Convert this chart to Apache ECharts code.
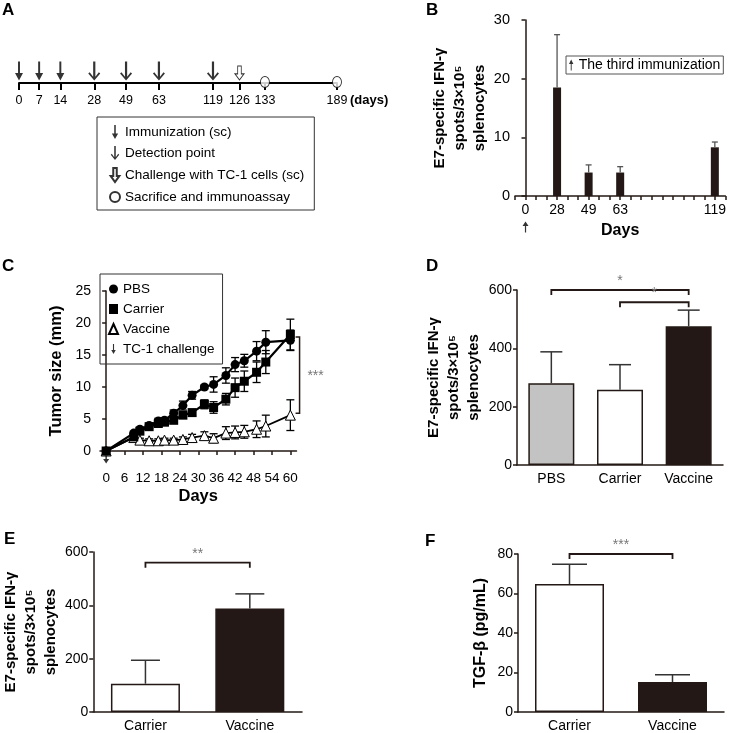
<!DOCTYPE html>
<html><head><meta charset="utf-8">
<script src="https://cdn.jsdelivr.net/npm/echarts@6/dist/echarts.min.js"></script>
<style>html,body{margin:0;padding:0;background:#fff}#c{width:729px;height:733px}</style>
</head><body><div id="c"></div><script>
// ================= DATA =================
// A: immunization schedule (days)
const aImmunDays = [0, 7, 14];
const aDetectDays = [28, 49, 63, 119];
const aChallengeDays = [126];
const aSacrificeDays = [133, 189];
const aTickDays = [0, 7, 14, 28, 49, 63, 119, 126, 133, 189];
// B: E7-specific IFN-gamma spots over time
const bDays = [0, 28, 49, 63, 119];
const bValues = [0, 18.5, 4.0, 4.0, 8.3];
const bErrors = [0, 9.0, 1.3, 1.0, 0.9];
// C: tumor growth
const cDays = [0, 9, 11, 14, 17, 19, 22, 25, 28, 32, 35, 39, 42, 45, 49, 52, 60];
const cPBS = [0, 2.8, 3.4, 4.0, 4.7, 4.8, 5.9, 7.1, 8.7, 10.0, 10.4, 11.8, 13.5, 14.1, 15.6, 17.0, 17.3];
const cPBSErr = [0, 0.3, 0.3, 0.3, 0.4, 0.4, 0.5, 0.7, 0.6, 0.3, 1.2, 1.2, 1.1, 1.0, 1.5, 1.8, 1.6];
const cCarrier = [0, 2.2, 3.1, 3.8, 4.3, 4.5, 4.8, 5.6, 6.0, 7.3, 6.8, 8.1, 9.9, 10.9, 12.3, 13.9, 18.2];
const cCarrierErr = [0, 0.3, 0.3, 0.3, 0.4, 0.4, 0.5, 0.5, 0.5, 0.7, 0.9, 0.9, 1.5, 1.6, 1.6, 1.8, 2.4];
const cVaccine = [0, 2.1, 1.7, 1.6, 1.6, 1.7, 1.7, 1.8, 2.1, 2.4, 2.0, 2.8, 2.9, 3.0, 3.4, 3.9, 5.6];
const cVaccineErr = [0, 0.2, 0.3, 0.3, 0.3, 0.3, 0.3, 0.4, 0.5, 0.6, 0.7, 1.0, 1.0, 1.0, 1.3, 1.7, 2.4];
const cSig = { day: 63, from: 17.8, to: 5.9, label: '***' };
// D
const dCats = ['PBS', 'Carrier', 'Vaccine'];
const dValues = [280, 258, 476];
const dErrors = [108, 86, 55];
const dSig = [{ from: 0, to: 2, y: 600, label: '*' }, { from: 1, to: 2, y: 558, label: '*' }];
// E
const eCats = ['Carrier', 'Vaccine'];
const eValues = [106, 388];
const eErrors = [88, 55];
const eSig = [{ from: 0, to: 1, y: 560, label: '**' }];
// F
const fCats = ['Carrier', 'Vaccine'];
const fValues = [64.8, 15.2];
const fErrors = [10.0, 3.6];
const fSig = [{ from: 0, to: 1, y: 80, label: '***' }];

// ================= LAYOUT (schematic slots) =================
const aSlotOf = {0: 0, 7: 1.9, 14: 3.9, 28: 7.1, 49: 10.1, 63: 13.2, 119: 18.3, 126: 20.8, 133: 23.2, 189: 30};
const bSlotOf = {0: 0, 28: 3, 49: 6, 63: 9, 119: 18};

const FONT = '"Liberation Sans", Arial, sans-serif';
const INK = '#231815';
const P_THIN_DOWN = 'path://M3.9,0 L6.1,0 L6.1,12 L9.5,12 L5,20 L0.5,12 L3.9,12 Z';
const P_CHEVRON_DOWN = 'path://M4.9,0 L7.1,0 L7.1,16 L10.6,11.2 L12,12.6 L6,20 L0,12.6 L1.4,11.2 L4.9,16 Z';
const P_BLOCK_DOWN = 'path://M3,0 L7,0 L7,9 L10,9 L5,16 L0,9 L3,9 Z';
const P_THIN_UP = 'path://M4.2,20 L5.8,20 L5.8,8 L9,8 L5,0 L1,8 L4.2,8 Z';

const aSlots = aTickDays.map(d => aSlotOf[d]);
function aLabel(v) {
  const i = aSlots.findIndex(s => Math.abs(s - v) < 1e-6);
  return i >= 0 ? String(aTickDays[i]) : '';
}
function bLabel(v) {
  for (const d of bDays) if (bSlotOf[d] === v) return String(d);
  return '';
}

function errRender(capHalf, color, lw, twoSided) {
  return function (params, api) {
    const x = api.value(0), v = api.value(1), e = api.value(2);
    if (!e) return null;
    const top = api.coord([x, v + e]);
    const mid = api.coord([x, v]);
    const bot = twoSided ? api.coord([x, v - e]) : mid;
    const st = { stroke: color, lineWidth: lw };
    const ch = [
      { type: 'line', shape: { x1: top[0], y1: top[1], x2: bot[0], y2: bot[1] }, style: st },
      { type: 'line', shape: { x1: top[0] - capHalf, y1: top[1], x2: top[0] + capHalf, y2: top[1] }, style: st }
    ];
    if (twoSided) ch.push({ type: 'line', shape: { x1: bot[0] - capHalf, y1: bot[1], x2: bot[0] + capHalf, y2: bot[1] }, style: st });
    return { type: 'group', children: ch };
  };
}
function sigRender(list) {
  return function (params, api) {
    const s = list[params.dataIndex];
    const a = api.coord([s.from, s.y]);
    const b = api.coord([s.to, s.y]);
    return {
      type: 'group', children: [
        { type: 'polyline', shape: { points: [[a[0], a[1] + 5], [a[0], a[1]], [b[0], a[1]], [b[0], a[1] + 5]] },
          style: { stroke: INK, lineWidth: 1.8, fill: null } },
        { type: 'text', x: (a[0] + b[0]) / 2, y: a[1] - 2,
          style: { text: s.label, fill: '#777', font: '14px ' + FONT, align: 'center', verticalAlign: 'bottom' } }
      ]
    };
  };
}

const axisLineStyle = { show: true, lineStyle: { color: INK, width: 1.5 } };
const tickStyle = { show: true, length: 4, lineStyle: { color: INK, width: 1.5 } };
const labelStyle = (fs) => ({ color: '#000', fontSize: fs, fontFamily: FONT });
const nameStyle = (fs) => ({ color: '#000', fontSize: fs, fontWeight: 'bold', fontFamily: FONT, lineHeight: 20 });
const nameStyleC = (fs) => ({ ...nameStyle(fs), align: 'center', verticalAlign: 'middle' });
const IFN_TITLE = 'E7-specific IFN-γ\nspots/3×10⁵\nsplenocytes';

const option = {
  animation: false,
  backgroundColor: '#fff',
  grid: [
    { left: 19, top: 63, width: 318, height: 20 },      // A
    { left: 515, top: 20, width: 212, height: 176 },    // B
    { left: 100, top: 291, width: 196.5, height: 160 }, // C
    { left: 517, top: 290, width: 206, height: 175 },   // D
    { left: 92, top: 552, width: 210, height: 164 },    // E
    { left: 518, top: 554, width: 206, height: 162 }    // F
  ],
  xAxis: [
    { gridIndex: 0, type: 'value', min: 0, max: 30,
      axisLine: { show: true, lineStyle: { color: '#000', width: 2 } },
      axisTick: { show: true, customValues: aSlots, length: 7, lineStyle: { color: '#000', width: 2 } },
      axisLabel: { customValues: aSlots, formatter: aLabel, margin: 11, ...labelStyle(12.5) },
      splitLine: { show: false } },
    { gridIndex: 1, type: 'value', min: -1, max: 19, interval: 1,
      axisLine: axisLineStyle, axisTick: tickStyle,
      axisLabel: { formatter: bLabel, margin: 7, showMinLabel: true, showMaxLabel: true, ...labelStyle(14) },
      splitLine: { show: false },
      name: 'Days', nameLocation: 'middle', nameGap: 25, nameTextStyle: nameStyle(16) },
    { gridIndex: 2, type: 'value', min: -2, max: 62, offset: 15,
      axisLine: axisLineStyle,
      axisTick: { ...tickStyle, customValues: [0, 6, 12, 18, 24, 30, 36, 42, 48, 54, 60] },
      axisLabel: { customValues: [0, 6, 12, 18, 24, 30, 36, 42, 48, 54, 60], margin: 5, ...labelStyle(13.5) },
      splitLine: { show: false },
      name: 'Days', nameLocation: 'middle', nameGap: 20, nameTextStyle: nameStyle(16.5) },
    { gridIndex: 3, type: 'category', data: dCats,
      axisLine: axisLineStyle, axisTick: { show: false },
      axisLabel: { margin: 7, ...labelStyle(14) } },
    { gridIndex: 4, type: 'category', data: eCats,
      axisLine: axisLineStyle, axisTick: { show: false },
      axisLabel: { margin: 7, ...labelStyle(14) } },
    { gridIndex: 5, type: 'category', data: fCats,
      axisLine: axisLineStyle, axisTick: { show: false },
      axisLabel: { margin: 7, ...labelStyle(14) } }
  ],
  yAxis: [
    { gridIndex: 0, type: 'value', min: 0, max: 1, show: false },
    { gridIndex: 1, type: 'value', min: 0, max: 30, interval: 10,
      axisLine: axisLineStyle, axisTick: tickStyle, axisLabel: { margin: 5, ...labelStyle(14.5) },
      splitLine: { show: false },
      name: IFN_TITLE, nameLocation: 'middle', nameGap: 55, nameTextStyle: nameStyleC(15) },
    { gridIndex: 2, type: 'value', min: 0, max: 25, interval: 5, offset: 5,
      axisLine: axisLineStyle, axisTick: tickStyle, axisLabel: { margin: 4, ...labelStyle(14) },
      splitLine: { show: false },
      name: 'Tumor size (mm)', nameLocation: 'middle', nameGap: 29, nameTextStyle: nameStyle(16.5) },
    { gridIndex: 3, type: 'value', min: 0, max: 600, interval: 200,
      axisLine: axisLineStyle, axisTick: tickStyle, axisLabel: { margin: 5, ...labelStyle(14) },
      splitLine: { show: false },
      name: IFN_TITLE, nameLocation: 'middle', nameGap: 63, nameTextStyle: nameStyleC(15) },
    { gridIndex: 4, type: 'value', min: 0, max: 600, interval: 200,
      axisLine: axisLineStyle, axisTick: tickStyle, axisLabel: { margin: 5, ...labelStyle(14) },
      splitLine: { show: false },
      name: IFN_TITLE, nameLocation: 'middle', nameGap: 60, nameTextStyle: nameStyleC(15) },
    { gridIndex: 5, type: 'value', min: 0, max: 80, interval: 20,
      axisLine: axisLineStyle, axisTick: tickStyle, axisLabel: { margin: 5, ...labelStyle(14) },
      splitLine: { show: false },
      name: 'TGF-β (pg/mL)', nameLocation: 'middle', nameGap: 27, nameTextStyle: nameStyle(16) }
  ],
  legend: [
    { left: 97, top: 117, orient: 'vertical', selectedMode: false,
      data: ['Immunization (sc)', 'Detection point', 'Challenge with TC-1 cells (sc)', 'Sacrifice and immunoassay'],
      borderColor: '#333', borderWidth: 1, borderRadius: 0, padding: [8, 10, 6, 12], itemGap: 7,
      itemWidth: 10, itemHeight: 14, textStyle: { fontSize: 13.5, fontFamily: FONT, color: '#000' } },
    { left: 566, top: 56, orient: 'vertical', selectedMode: false,
      data: [{ name: 'The third immunization', icon: P_THIN_UP }],
      borderColor: '#555', borderWidth: 1, borderRadius: 0, padding: [2, 3, 2, 3],
      itemWidth: 5, itemHeight: 11, textStyle: { fontSize: 14, fontFamily: FONT, color: '#000' } },
    { left: 100, top: 274, orient: 'vertical', selectedMode: false,
      data: [{ name: 'PBS', icon: 'circle' }, { name: 'Carrier', icon: 'rect' },
             { name: 'Vaccine', icon: 'triangle' }, { name: 'TC-1 challenge', icon: P_THIN_DOWN }],
      borderColor: '#333', borderWidth: 1, borderRadius: 0, padding: [8, 8, 8, 8], itemGap: 6,
      itemWidth: 9, itemHeight: 10, textStyle: { fontSize: 13.5, fontFamily: FONT, color: '#000' } }
  ],
  series: [
    // ---- A ----
    { name: 'Immunization (sc)', type: 'scatter', xAxisIndex: 0, yAxisIndex: 0,
      data: aImmunDays.map(d => [aSlotOf[d], 0.6]), symbol: P_THIN_DOWN, symbolSize: [8, 19],
      itemStyle: { color: '#000' } },
    { name: 'Detection point', type: 'scatter', xAxisIndex: 0, yAxisIndex: 0,
      data: aDetectDays.map(d => [aSlotOf[d], 0.6]), symbol: P_CHEVRON_DOWN, symbolSize: [12, 19],
      itemStyle: { color: '#000' } },
    { name: 'Challenge with TC-1 cells (sc)', type: 'scatter', xAxisIndex: 0, yAxisIndex: 0,
      data: aChallengeDays.map(d => [aSlotOf[d], 0.5]), symbol: P_BLOCK_DOWN, symbolSize: [9, 14],
      itemStyle: { color: '#fff', borderColor: '#000', borderWidth: 1 } },
    { name: 'Sacrifice and immunoassay', type: 'scatter', xAxisIndex: 0, yAxisIndex: 0, z: 5,
      data: aSacrificeDays.map(d => [aSlotOf[d], 0.05]), symbol: 'circle', symbolSize: [9, 11],
      itemStyle: { color: '#fff', borderColor: '#000', borderWidth: 1 } },
    // ---- B ----
    { name: 'B bars', type: 'bar', xAxisIndex: 1, yAxisIndex: 1, barWidth: 8,
      data: bDays.map((d, i) => [bSlotOf[d], bValues[i]]), itemStyle: { color: INK } },
    { name: 'B err', type: 'custom', xAxisIndex: 1, yAxisIndex: 1, z: 3,
      data: bDays.map((d, i) => [bSlotOf[d], bValues[i], bErrors[i]]), encode: { x: 0, y: 1 },
      renderItem: errRender(3, '#555', 1.3, false) },
    { name: 'The third immunization', type: 'scatter', xAxisIndex: 1, yAxisIndex: 1,
      data: [[bSlotOf[0], 0]], symbol: P_THIN_UP, symbolSize: [6, 11], symbolOffset: [0, 31],
      itemStyle: { color: '#000' }, clip: false },
    // ---- C ----
    { name: 'PBS err', type: 'custom', xAxisIndex: 2, yAxisIndex: 2, z: 1,
      data: cDays.map((d, i) => [d, cPBS[i], cPBSErr[i]]), encode: { x: 0, y: 1 },
      renderItem: errRender(4, '#000', 1.3, true) },
    { name: 'Carrier err', type: 'custom', xAxisIndex: 2, yAxisIndex: 2, z: 1,
      data: cDays.map((d, i) => [d, cCarrier[i], cCarrierErr[i]]), encode: { x: 0, y: 1 },
      renderItem: errRender(4, '#000', 1.3, true) },
    { name: 'Vaccine err', type: 'custom', xAxisIndex: 2, yAxisIndex: 2, z: 1,
      data: cDays.map((d, i) => [d, cVaccine[i], cVaccineErr[i]]), encode: { x: 0, y: 1 },
      renderItem: errRender(4, '#000', 1.3, true) },
    { name: 'Vaccine', type: 'line', xAxisIndex: 2, yAxisIndex: 2, z: 2,
      data: cDays.map((d, i) => [d, cVaccine[i]]), symbol: 'triangle', symbolSize: 10,
      lineStyle: { color: '#000', width: 1.8 },
      itemStyle: { color: '#fff', borderColor: '#000', borderWidth: 1 } },
    { name: 'Carrier', type: 'line', xAxisIndex: 2, yAxisIndex: 2, z: 3,
      data: cDays.map((d, i) => [d, cCarrier[i]]), symbol: 'rect', symbolSize: 9,
      lineStyle: { color: '#000', width: 2.2 }, itemStyle: { color: '#000' } },
    { name: 'PBS', type: 'line', xAxisIndex: 2, yAxisIndex: 2, z: 4,
      data: cDays.map((d, i) => [d, cPBS[i]]), symbol: 'circle', symbolSize: 9,
      lineStyle: { color: '#000', width: 2.2 }, itemStyle: { color: '#000' } },
    { name: 'TC-1 challenge', type: 'scatter', xAxisIndex: 2, yAxisIndex: 2, z: 1,
      data: [[0, 0]], symbol: P_THIN_DOWN, symbolSize: [6, 11], symbolOffset: [0, 7],
      itemStyle: { color: '#000' }, clip: false },
    { name: 'C sig', type: 'custom', xAxisIndex: 2, yAxisIndex: 2,
      data: [[cSig.day, cSig.from, cSig.to]], encode: { x: 0, y: [1, 2] },
      renderItem: function (params, api) {
        const a = api.coord([cSig.day, cSig.from]);
        const b = api.coord([cSig.day, cSig.to]);
        return { type: 'group', children: [
          { type: 'polyline', shape: { points: [[a[0] - 4, a[1]], [a[0], a[1]], [b[0], b[1]], [b[0] - 4, b[1]]] },
            style: { stroke: INK, lineWidth: 1.5, fill: null } },
          { type: 'text', x: a[0] + 16, y: (a[1] + b[1]) / 2 + 1,
            style: { text: cSig.label, fill: '#777', font: '14px ' + FONT, align: 'center', verticalAlign: 'middle' } }
        ] };
      } },
    // ---- D ----
    { name: 'D bars', type: 'bar', xAxisIndex: 3, yAxisIndex: 3, barWidth: 46,
      data: dValues.map((v, i) => ({ value: v, itemStyle: { color: ['#c3c3c3', '#ffffff', INK][i] } })),
      itemStyle: { borderColor: INK, borderWidth: 1.5 } },
    { name: 'D err', type: 'custom', xAxisIndex: 3, yAxisIndex: 3, z: 3,
      data: dValues.map((v, i) => [i, v, dErrors[i]]), encode: { x: 0, y: 1 },
      renderItem: errRender(11, '#333', 1.5, false) },
    { name: 'D sig', type: 'custom', xAxisIndex: 3, yAxisIndex: 3,
      data: dSig.map(s => [s.from, s.y]), encode: { x: 0, y: 1 }, renderItem: sigRender(dSig) },
    // ---- E ----
    { name: 'E bars', type: 'bar', xAxisIndex: 4, yAxisIndex: 4, barWidth: 69,
      data: eValues.map((v, i) => ({ value: v, itemStyle: { color: ['#ffffff', INK][i] } })),
      itemStyle: { borderColor: INK, borderWidth: 1.5 } },
    { name: 'E err', type: 'custom', xAxisIndex: 4, yAxisIndex: 4, z: 3,
      data: eValues.map((v, i) => [i, v, eErrors[i]]), encode: { x: 0, y: 1 },
      renderItem: errRender(14.5, '#333', 1.5, false) },
    { name: 'E sig', type: 'custom', xAxisIndex: 4, yAxisIndex: 4,
      data: eSig.map(s => [s.from, s.y]), encode: { x: 0, y: 1 }, renderItem: sigRender(eSig) },
    // ---- F ----
    { name: 'F bars', type: 'bar', xAxisIndex: 5, yAxisIndex: 5, barWidth: 69,
      data: fValues.map((v, i) => ({ value: v, itemStyle: { color: ['#ffffff', INK][i] } })),
      itemStyle: { borderColor: INK, borderWidth: 1.5 } },
    { name: 'F err', type: 'custom', xAxisIndex: 5, yAxisIndex: 5, z: 3,
      data: fValues.map((v, i) => [i, v, fErrors[i]]), encode: { x: 0, y: 1 },
      renderItem: errRender(17.5, '#333', 1.5, false) },
    { name: 'F sig', type: 'custom', xAxisIndex: 5, yAxisIndex: 5,
      data: fSig.map(s => [s.from, s.y]), encode: { x: 0, y: 1 }, renderItem: sigRender(fSig) }
  ],
  graphic: [
    { type: 'text', left: 2, top: 2, style: { text: 'A', font: 'bold 17px ' + FONT, fill: '#000' } },
    { type: 'text', left: 426, top: 2, style: { text: 'B', font: 'bold 17px ' + FONT, fill: '#000' } },
    { type: 'text', left: 2, top: 258, style: { text: 'C', font: 'bold 17px ' + FONT, fill: '#000' } },
    { type: 'text', left: 426, top: 258, style: { text: 'D', font: 'bold 17px ' + FONT, fill: '#000' } },
    { type: 'text', left: 4, top: 531, style: { text: 'E', font: 'bold 17px ' + FONT, fill: '#000' } },
    { type: 'text', left: 425, top: 533, style: { text: 'F', font: 'bold 17px ' + FONT, fill: '#000' } },
    { type: 'text', left: 350, top: 94, style: { text: '(days)', font: 'bold 13px ' + FONT, fill: '#000' } }
  ]
};

const chart = echarts.init(document.getElementById('c'), null, { renderer: 'canvas' });
chart.setOption(option);
</script></body></html>
